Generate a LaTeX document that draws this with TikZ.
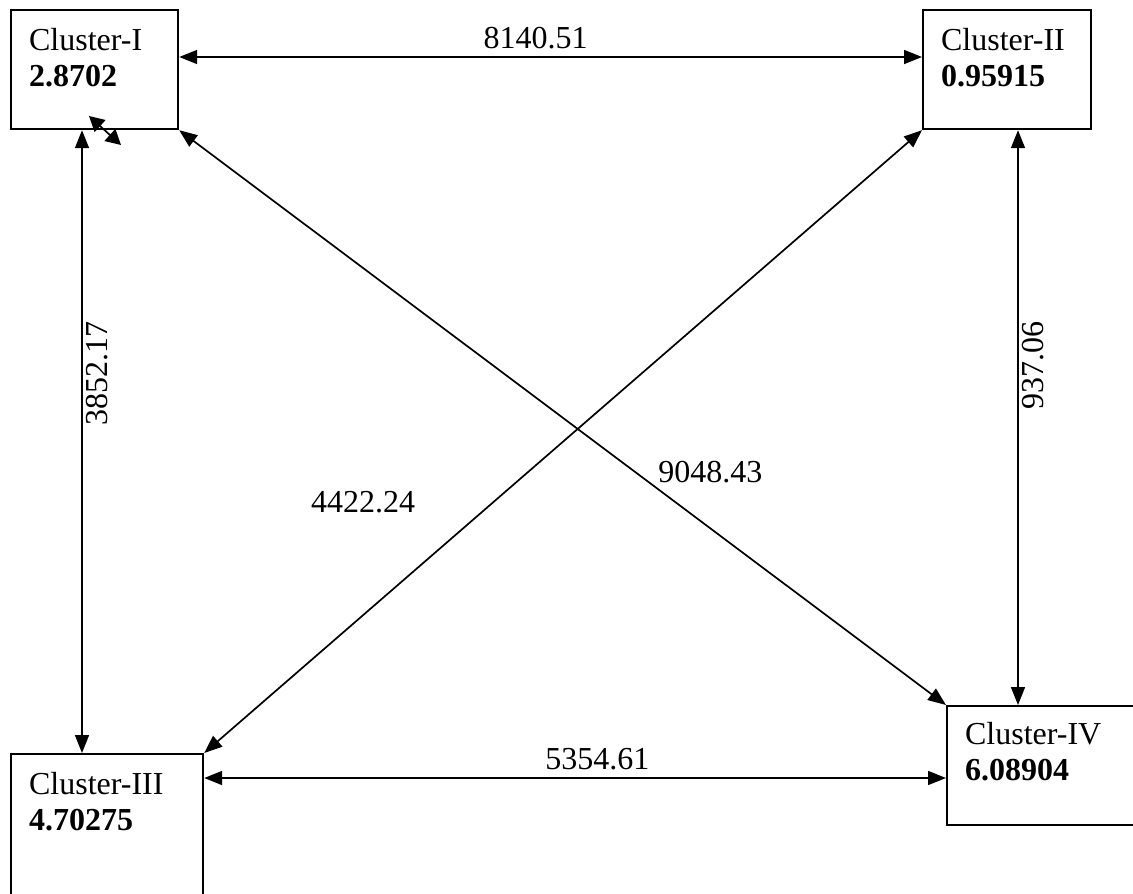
\documentclass[tikz,border=0pt]{standalone}
\usepackage{fontspec}
\setmainfont{Liberation Serif}
\usetikzlibrary{arrows.meta,positioning}

\begin{document}
\begin{tikzpicture}[x=1pt, y=-1pt, >={Triangle[length=18pt,width=14pt]},
    font=\fontsize{32}{36}\selectfont,
    cluster/.style={draw, rectangle, line width=2.2pt, anchor=north west, align=left, inner xsep=18pt, inner ysep=0pt, text height=40pt},
    link/.style={<->, line width=1.7pt},
    val/.style={inner sep=3pt}]
    \useasboundingbox (0,0) rectangle (1133,894);
    % Nodes
    \node[cluster, text width=131pt, text depth=79pt] (c1) at (10,9) {Cluster-I\\\textbf{2.8702}};
    \node[cluster, text width=132pt, text depth=79pt] (c2) at (922,9) {Cluster-II\\\textbf{0.95915}};
    \node[cluster, text width=156pt, text depth=117pt] (c3) at (10,753) {Cluster-III\\\textbf{4.70275}};
    \node[cluster, text width=156pt, text height=38pt, text depth=81pt] (c4) at (946,705) {Cluster-IV\\\textbf{6.08904}};
    \coordinate (s1) at (89,116);
    \coordinate (s2) at (121,145);
    % Arrows
    \draw[link] ([yshift=-48pt]c1.north east) -- node[val, above=4pt, pos=0.48] {8140.51} ([yshift=-48pt]c2.north west);
    \draw[link] ([xshift=72pt]c1.south west) -- node[val, rotate=90, anchor=north, pos=0.39] {3852.17} ([xshift=72pt]c3.north west);
    \draw[link] ([xshift=96pt]c2.south west) -- node[val, rotate=90, anchor=north, pos=0.41] {937.06} ([xshift=72pt]c4.north west);
    \draw[link] ([yshift=-25pt]c3.north east) -- node[val, above=4pt, pos=0.53] {5354.61} ([yshift=-73pt]c4.north west);
    \draw[link] (c1.south east) -- node[val, anchor=south west, pos=0.62] {9048.43} (c4.north west);
    \draw[link] (c2.south west) -- node[val, anchor=south east, pos=0.62, xshift=-58pt] {4422.24} (c3.north east);
    \draw[link, >={Triangle[length=15pt,width=16pt]}] (s1) -- (s2);
\end{tikzpicture}
\end{document}
